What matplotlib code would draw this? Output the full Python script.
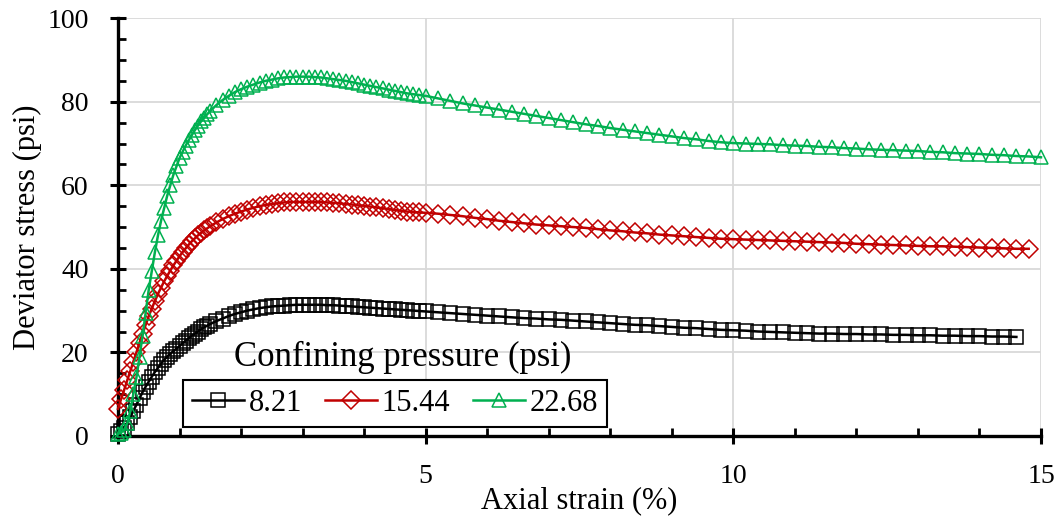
import matplotlib.pyplot as plt
from matplotlib.ticker import MultipleLocator

plt.rcParams['font.family'] = ['Liberation Serif', 'DejaVu Serif']

# strain (%) - dense readings up to 5 %, coarser after that
strain_a = [0.0, 0.05, 0.1, 0.15, 0.2, 0.25, 0.3, 0.35, 0.4, 0.45,
            0.5, 0.55, 0.6, 0.65, 0.7, 0.75, 0.8, 0.85, 0.9, 0.95,
            1.0, 1.05, 1.1, 1.15, 1.2, 1.25, 1.3, 1.35, 1.4, 1.45, 1.5,
            1.6, 1.7, 1.8, 1.9,
            2.0, 2.1, 2.2, 2.3, 2.4, 2.5, 2.6, 2.7, 2.8, 2.9,
            3.0, 3.1, 3.2, 3.3, 3.4, 3.5, 3.6, 3.7, 3.8, 3.9,
            4.0, 4.1, 4.2, 4.3, 4.4, 4.5, 4.6, 4.7, 4.8, 4.9, 5.0]
strain_b = [5.2, 5.4, 5.6, 5.8, 6.0, 6.2, 6.4, 6.6, 6.8, 7.0,
            7.2, 7.4, 7.6, 7.8, 8.0, 8.2, 8.4, 8.6, 8.8, 9.0,
            9.2, 9.4, 9.6, 9.8, 10.0, 10.2, 10.4, 10.6, 10.8, 11.0,
            11.2, 11.4, 11.6, 11.8, 12.0, 12.2, 12.4, 12.6, 12.8, 13.0,
            13.2, 13.4, 13.6, 13.8, 14.0, 14.2, 14.4, 14.6, 14.8, 15.0]

# deviator stress (psi)
s821_a = [0.5, 1.2, 2.0, 3.2, 4.5, 6.0, 7.5, 9.0, 10.5, 11.8,
          13.0, 14.2, 15.3, 16.3, 17.3, 18.2, 19.0, 19.7, 20.3, 20.9,
          21.5, 22.2, 22.8, 23.4, 24.0, 24.5, 25.0, 25.5, 26.0, 26.4, 26.8,
          27.5, 28.1, 28.7, 29.2,
          29.6, 30.0, 30.3, 30.6, 30.8, 31.0, 31.1, 31.2, 31.3, 31.4,
          31.4, 31.4, 31.4, 31.4, 31.3, 31.3, 31.2, 31.1, 31.0, 30.9,
          30.8, 30.7, 30.6, 30.5, 30.4, 30.3, 30.2, 30.1, 30.0, 29.9, 29.8]
s821_b = [29.6, 29.4, 29.2, 29.0, 28.8, 28.6, 28.4, 28.2, 28.1, 27.9,
          27.8, 27.6, 27.4, 27.2, 27.0, 26.8, 26.6, 26.5, 26.3, 26.1,
          25.9, 25.8, 25.6, 25.4, 25.3, 25.2, 25.0, 24.9, 24.8, 24.7,
          24.6, 24.5, 24.5, 24.4, 24.4, 24.3, 24.3, 24.2, 24.2, 24.1,
          24.1, 24.0, 24.0, 23.9, 23.9, 23.8, 23.8, 23.7]

s1544_a = [6.5, 8.8, 11.0, 13.3, 15.5, 17.8, 20.0, 22.3, 24.5, 26.6,
           28.7, 30.5, 32.3, 34.0, 35.5, 37.0, 38.3, 39.6, 40.8, 41.9,
           43.0, 44.0, 44.9, 45.8, 46.6, 47.3, 48.0, 48.6, 49.2, 49.7, 50.2,
           51.1, 51.9, 52.6, 53.2,
           53.7, 54.2, 54.6, 55.0, 55.3, 55.5, 55.7, 55.9, 56.0, 56.0,
           56.0, 56.0, 56.0, 56.0, 55.9, 55.8, 55.7, 55.5, 55.4, 55.2,
           55.1, 54.9, 54.7, 54.5, 54.3, 54.1, 53.9, 53.7, 53.6, 53.5, 53.4]
s1544_b = [53.2, 52.9, 52.6, 52.2, 51.9, 51.5, 51.2, 50.9, 50.6, 50.4,
           50.2, 50.0, 49.8, 49.5, 49.2, 49.0, 48.7, 48.5, 48.2, 48.0,
           47.8, 47.6, 47.4, 47.2, 47.1, 47.0, 46.9, 46.8, 46.7, 46.6,
           46.5, 46.4, 46.3, 46.2, 46.0, 45.9, 45.8, 45.7, 45.6, 45.5,
           45.4, 45.4, 45.3, 45.2, 45.1, 45.0, 44.9, 44.8, 44.8]

s2268_a = [0.5, 0.8, 1.5, 3.0, 6.0, 10.0, 14.0, 19.0, 24.0, 29.5,
           35.0, 39.5, 44.0, 48.0, 51.5, 54.5, 57.5, 60.0, 62.5, 64.5,
           66.5, 68.0, 69.5, 70.8, 72.0, 73.2, 74.3, 75.3, 76.2, 77.0, 77.8,
           79.2, 80.4, 81.4, 82.3,
           83.0, 83.6, 84.1, 84.6, 85.0, 85.3, 85.6, 85.8, 85.9, 86.0,
           86.0, 86.0, 85.9, 85.8, 85.6, 85.4, 85.2, 85.0, 84.7, 84.4,
           84.1, 83.8, 83.5, 83.2, 82.9, 82.6, 82.3, 82.0, 81.8, 81.6, 81.4]
s2268_b = [80.8, 80.2, 79.6, 79.1, 78.6, 78.1, 77.6, 77.1, 76.6, 76.1,
           75.6, 75.1, 74.6, 74.2, 73.7, 73.3, 72.9, 72.5, 72.1, 71.7,
           71.3, 71.0, 70.6, 70.3, 70.1, 70.0, 69.9, 69.8, 69.6, 69.5,
           69.4, 69.2, 69.1, 68.9, 68.8, 68.6, 68.5, 68.4, 68.3, 68.2,
           68.0, 67.9, 67.7, 67.6, 67.5, 67.3, 67.2, 67.0, 66.9, 66.7]

labels = ['8.21', '15.44', '22.68']
colors = ['black', '#C00000', '#00B050']
markers = ['s', 'D', '^']

series = [s821_a + s821_b, s1544_a + s1544_b, s2268_a + s2268_b]
strain = strain_a + strain_b

fig = plt.figure(figsize=(10.59, 5.19), dpi=100)
ax = fig.add_axes([0.1114, 0.160, 0.8716, 0.805])

for y, lab, c, m in zip(series, labels, colors, markers):
    x = strain[:len(y)]
    ms = 9 if m == 'D' else 10
    ax.plot(x, y, color=c, lw=1.8, marker=m, ms=ms, mfc='none', mec=c,
            mew=1.1, label=lab, clip_on=False, zorder=3)

ax.set_xlim(0, 15)
ax.set_ylim(0, 100)
ax.xaxis.set_major_locator(MultipleLocator(5))
ax.xaxis.set_minor_locator(MultipleLocator(1))
ax.yaxis.set_major_locator(MultipleLocator(20))
ax.yaxis.set_minor_locator(MultipleLocator(5))
ax.grid(True, which='major', color='#D9D9D9', lw=1.3, zorder=0)
ax.set_axisbelow(True)

for s in ['top', 'right']:
    ax.spines[s].set_visible(False)
for s in ['left', 'bottom']:
    ax.spines[s].set_linewidth(2.4)

ax.tick_params(which='major', direction='inout', length=12, width=2.2,
               labelsize=20)
ax.tick_params(axis='x', which='major', pad=14)
ax.tick_params(axis='y', which='major', pad=15)
ax.tick_params(which='minor', direction='in', length=6, width=2.0)

ax.set_xlabel('Axial strain (%)', fontsize=22, labelpad=-2)
ax.set_ylabel('Deviator stress (psi)', fontsize=22, labelpad=4)

leg = ax.legend(loc='lower left', bbox_to_anchor=(0.0704, 0.0215), ncol=3,
                fontsize=22, frameon=True, fancybox=False, borderaxespad=0,
                handlelength=1.7, handletextpad=0.15, columnspacing=0.75,
                borderpad=0.3, numpoints=1)
leg.get_frame().set_edgecolor('black')
leg.get_frame().set_linewidth(1.5)
leg.get_frame().set_alpha(1)

ax.text(0.308, 0.187, 'Confining pressure (psi)', transform=ax.transAxes,
        ha='center', va='center', fontsize=25, zorder=5)

fig.savefig('out.png', dpi=100)
